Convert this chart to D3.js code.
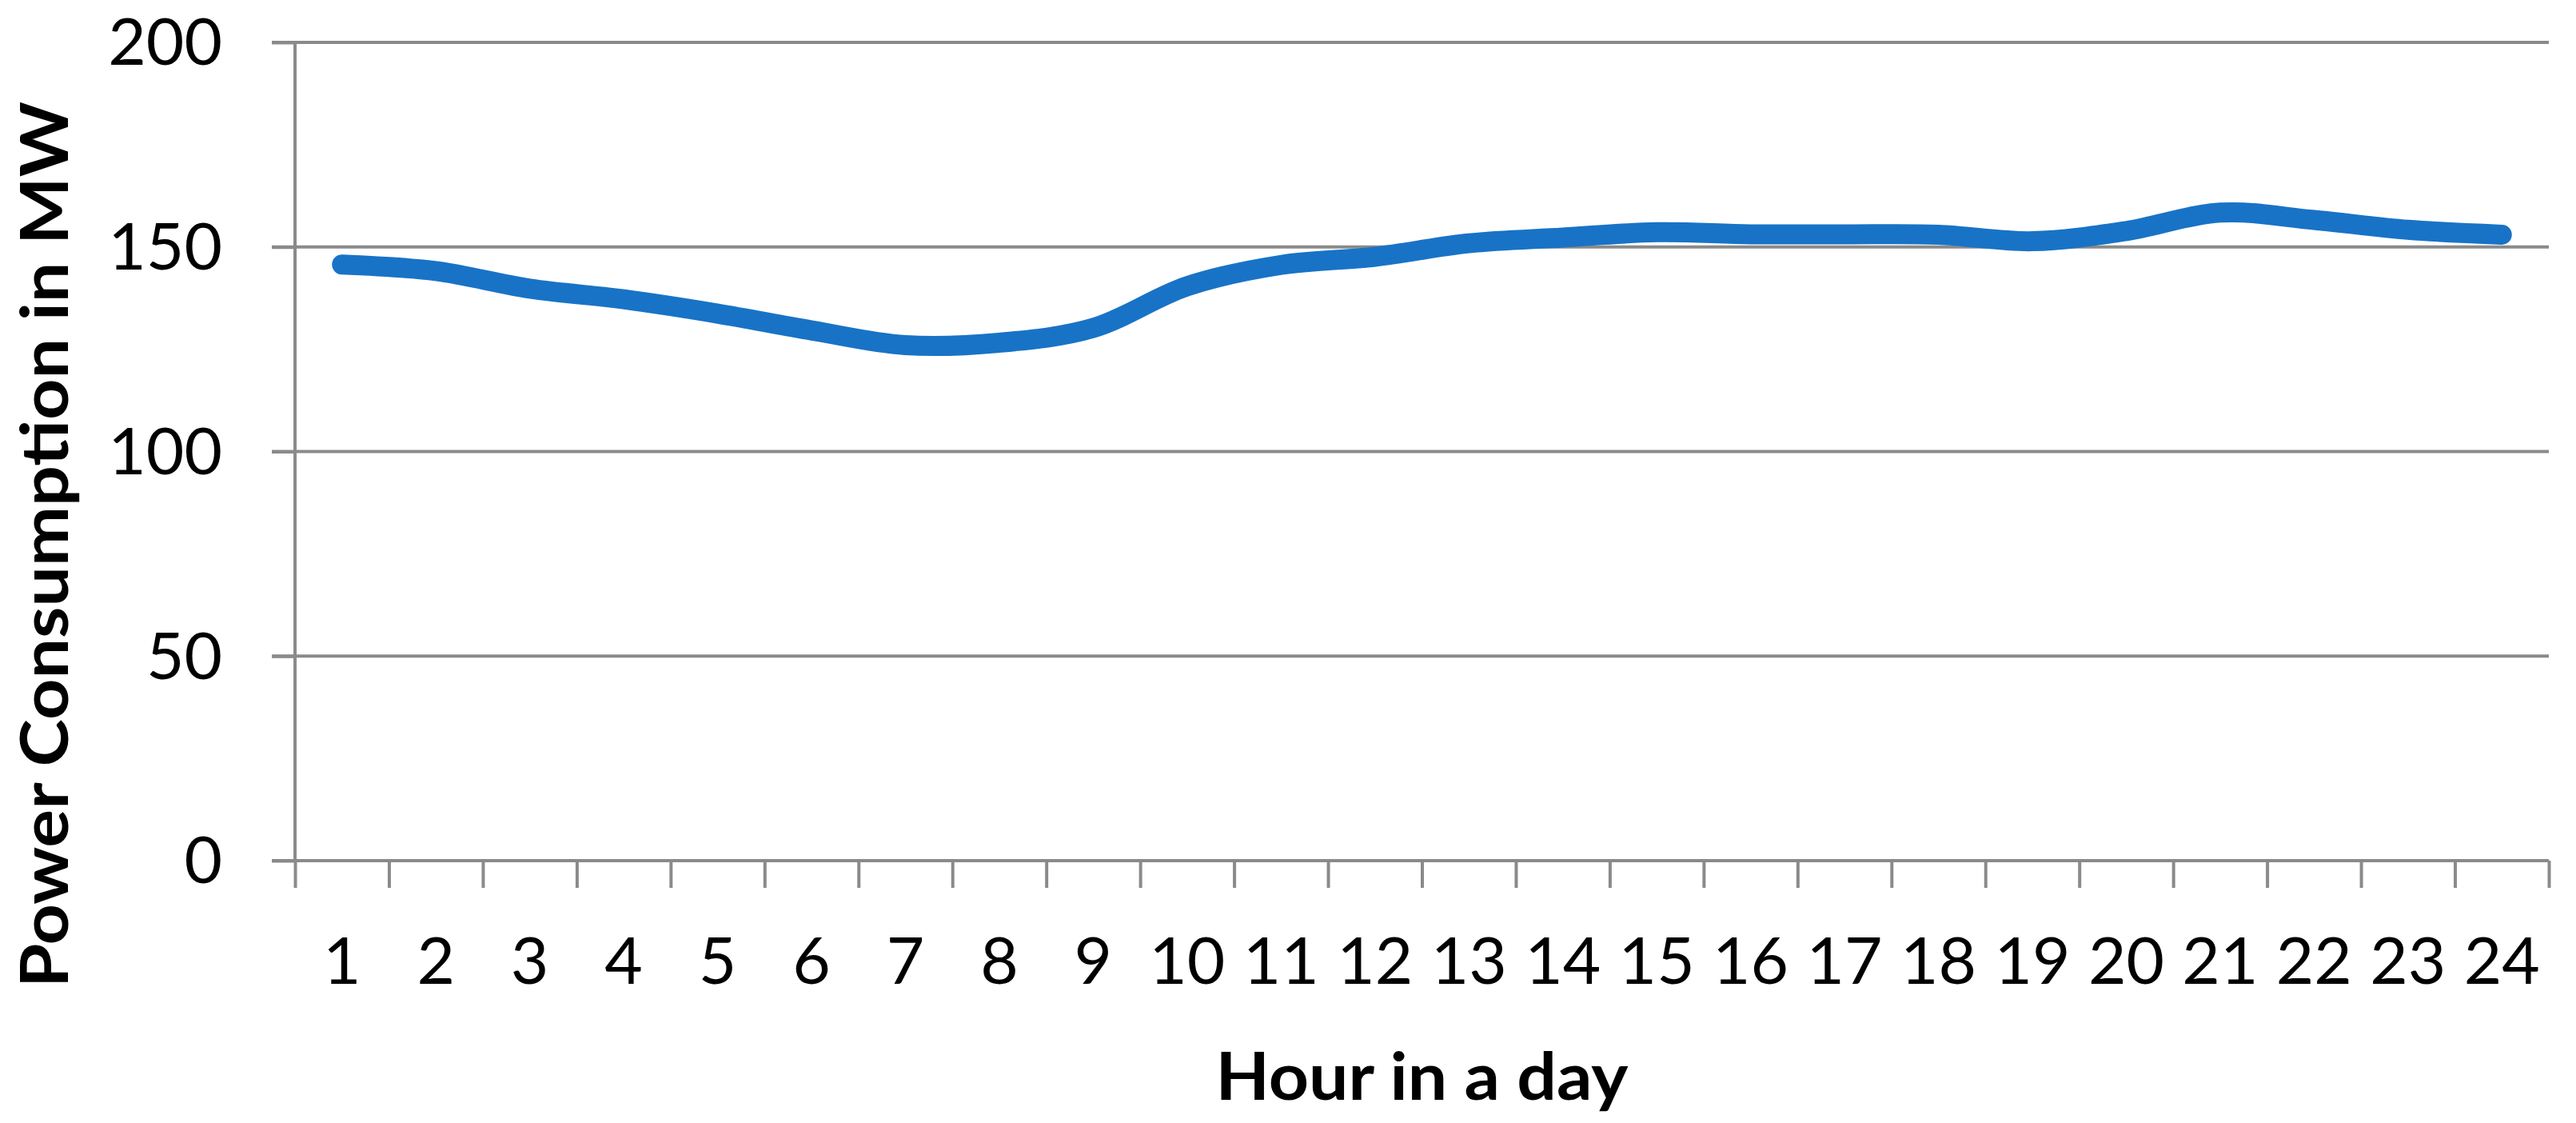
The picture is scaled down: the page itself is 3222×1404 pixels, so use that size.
<!DOCTYPE html>
<html>
<head>
<meta charset="utf-8">
<script src="https://cdn.jsdelivr.net/npm/d3@7"></script>
<style>
  html, body { margin: 0; padding: 0; background: #ffffff; }
  svg { display: block; }
  text { font-family: Lato, "Open Sans", "Noto Sans", sans-serif; fill: #000; }
</style>
</head>
<body>
<svg id="chart" width="3222" height="1404"></svg>
<script>
// ---- data ----
const hours = [1,2,3,4,5,6,7,8,9,10,11,12,13,14,15,16,17,18,19,20,21,22,23,24];
const power = [145.7,144.1,139.8,137.2,133.7,129.6,126.0,126.6,130.2,140.4,145.6,147.6,150.9,152.3,153.6,153.1,153.1,153.0,151.4,153.9,158.4,156.6,154.2,153.0];
const yTicks = [0,50,100,150,200];
const xTitle = "Hour in a day";
const yTitle = "Power Consumption in MW";

// ---- layout ----
const plot = { left: 369, right: 3188, top: 53, bottom: 1076 };
const gridColor = "#8a8a8a";
const lineColor = "#1873c6";
const fontFam = "Lato, 'Open Sans', 'Noto Sans', sans-serif";

const svg = d3.select("#chart");

const y = d3.scaleLinear().domain([0, 200]).range([plot.bottom, plot.top]);
const xBand = d3.scaleBand().domain(hours).range([plot.left, plot.right]).padding(0);
const xEdge = d3.scaleLinear().domain([0, hours.length]).range([plot.left, plot.right]);
const xc = d => xBand(d) + xBand.bandwidth() / 2;

// horizontal gridlines, extending left as tick stubs
svg.append("g")
  .selectAll("line")
  .data(yTicks.filter(t => t !== 0))
  .join("line")
  .attr("x1", plot.left - 29)
  .attr("x2", plot.right)
  .attr("y1", d => y(d))
  .attr("y2", d => y(d))
  .attr("stroke", gridColor)
  .attr("stroke-width", 4);

// y axis with labels
const yAxis = d3.axisLeft(y).tickValues(yTicks).tickSize(29).tickPadding(62).tickFormat(d3.format("d"));
const gy = svg.append("g").attr("transform", `translate(${plot.left},0)`).call(yAxis);
gy.select(".domain").attr("stroke", gridColor).attr("stroke-width", 4)
  .attr("d", `M0,${plot.top}V${plot.bottom}`);
gy.selectAll(".tick line").attr("stroke", gridColor).attr("stroke-width", 4);
gy.selectAll(".tick text")
  .attr("font-family", fontFam)
  .attr("font-size", 82).attr("fill", "#000")
  .attr("dy", "0.34em");

// x axis: tick marks at category edges
const xTickAxis = d3.axisBottom(xEdge).tickValues(d3.range(0, hours.length + 1)).tickSize(34).tickFormat("");
const gxt = svg.append("g").attr("transform", `translate(0,${plot.bottom})`).call(xTickAxis);
gxt.select(".domain").attr("stroke", gridColor).attr("stroke-width", 4)
  .attr("d", `M${plot.left - 29},0H${plot.right}`);
gxt.selectAll(".tick line").attr("stroke", gridColor).attr("stroke-width", 4);

// x axis labels at category centres
const xLabAxis = d3.axisBottom(xBand).tickSize(0).tickPadding(96);
const gxl = svg.append("g").attr("transform", `translate(0,${plot.bottom})`).call(xLabAxis);
gxl.select(".domain").remove();
gxl.selectAll(".tick text")
  .attr("font-family", fontFam)
  .attr("font-size", 82).attr("fill", "#000");

// smoothed line
const line = d3.line()
  .x((d, i) => xc(hours[i]))
  .y(d => y(d))
  .curve(d3.curveCatmullRom.alpha(0.5));

svg.append("path")
  .datum(power)
  .attr("d", line)
  .attr("fill", "none")
  .attr("stroke", lineColor)
  .attr("stroke-width", 25)
  .attr("stroke-linecap", "round")
  .attr("stroke-linejoin", "round");

// axis titles
svg.append("text")
  .attr("x", (plot.left + plot.right) / 2)
  .attr("y", 1375)
  .attr("text-anchor", "middle")
  .attr("font-family", fontFam)
  .attr("font-size", 82)
  .attr("font-weight", 700)
  .attr("textLength", 516)
  .attr("lengthAdjust", "spacingAndGlyphs")
  .text(xTitle);

svg.append("text")
  .attr("transform", `translate(85,681) rotate(-90)`)
  .attr("text-anchor", "middle")
  .attr("font-family", fontFam)
  .attr("font-size", 82)
  .attr("font-weight", 700)
  .attr("textLength", 1108)
  .attr("lengthAdjust", "spacingAndGlyphs")
  .text(yTitle);
</script>
</body>
</html>
